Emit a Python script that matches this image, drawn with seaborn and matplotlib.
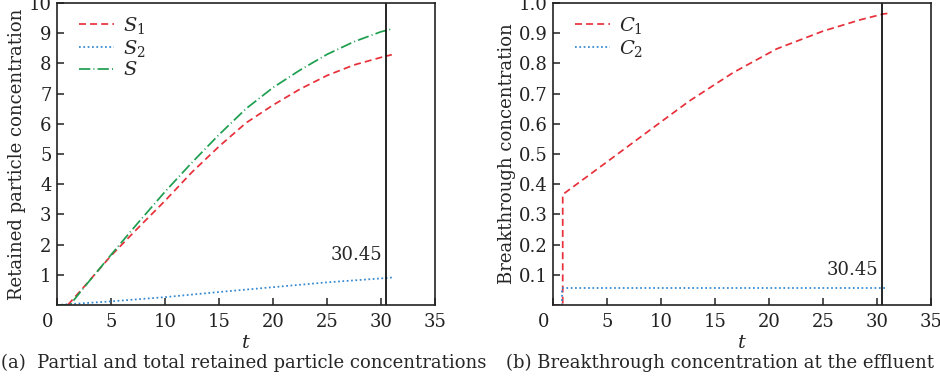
import numpy as np
import pandas as pd
import matplotlib
matplotlib.use("Agg")
import matplotlib.pyplot as plt
import matplotlib.transforms as mtransforms
import seaborn as sns

# ---- retained particle concentrations (panel a) ----
t_s1 = [0, 1.0, 2.5, 5, 7.5, 10, 12.5, 15, 17.5, 20, 22.5, 25, 27.5, 30, 31]
s1 = [0, 0, 0.60, 1.63, 2.55, 3.45, 4.40, 5.25, 6.03, 6.62, 7.15, 7.60, 7.95, 8.20, 8.29]

t_s2 = [0, 5, 10, 15, 20, 25, 30, 31]
s2 = [0, 0.12, 0.26, 0.43, 0.59, 0.75, 0.88, 0.91]

t_s = [0, 1.2, 2.5, 5, 7.5, 10, 12.5, 15, 17.5, 20, 22.5, 25, 27.5, 30, 31]
s_tot = [0, 0, 0.58, 1.66, 2.72, 3.75, 4.72, 5.64, 6.50, 7.20, 7.78, 8.30, 8.72, 9.05, 9.14]

# ---- breakthrough concentrations (panel b) ----
t_c1 = [0, 0.9, 0.9, 5, 9, 12.6, 16.7, 20.7, 25, 28.5, 30.6, 31.1]
c1 = [0, 0, 0.366, 0.474, 0.58, 0.675, 0.77, 0.848, 0.907, 0.945, 0.964, 0.966]

t_c2 = [0, 0.85, 0.85, 30.8]
c2 = [0, 0, 0.056, 0.056]

t_mark = 30.45
x_ticks = [0, 5, 10, 15, 20, 25, 30, 35]
y_ticks_a = [1, 2, 3, 4, 5, 6, 7, 8, 9, 10]
y_ticks_b = [0.1, 0.2, 0.3, 0.4, 0.5, 0.6, 0.7, 0.8, 0.9, 1.0]
y_labels_b = ["0.1", "0.2", "0.3", "0.4", "0.5", "0.6", "0.7", "0.8", "0.9", "1.0"]

sns.set_style("ticks")
plt.rcParams["font.family"] = ["DejaVu Serif"]
plt.rcParams["mathtext.fontset"] = "dejavuserif"
plt.rcParams["axes.edgecolor"] = "#222222"
plt.rcParams["axes.linewidth"] = 1.2

RED = "#e8303a"
BLUE = "#2f86d1"
GREEN = "#1e9e4f"
FS = 13

red_ls = (0, (4, 2.4))
blue_ls = (0, (1, 1.5))
green_ls = (0, (6.5, 1.8, 0.6, 1.8))
LW = 1.25

fig = plt.figure(figsize=(9.4, 3.81), dpi=100)
ax1 = fig.add_axes([0.0606, 0.1995, 0.4022, 0.7925])
ax2 = fig.add_axes([0.5883, 0.1995, 0.4021, 0.7925])

df_s1 = pd.DataFrame({"t": t_s1, "v": s1})
df_s2 = pd.DataFrame({"t": t_s2, "v": s2})
df_s = pd.DataFrame({"t": t_s, "v": s_tot})
sns.lineplot(data=df_s1, x="t", y="v", ax=ax1, color=RED, lw=LW,
             linestyle=red_ls, label="$S_1$", estimator=None, sort=False)
sns.lineplot(data=df_s2, x="t", y="v", ax=ax1, color=BLUE, lw=LW,
             linestyle=blue_ls, label="$S_2$", estimator=None, sort=False)
sns.lineplot(data=df_s, x="t", y="v", ax=ax1, color=GREEN, lw=LW,
             linestyle=green_ls, label="$S$", estimator=None, sort=False)

df_c1 = pd.DataFrame({"t": t_c1, "v": c1})
df_c2 = pd.DataFrame({"t": t_c2, "v": c2})
sns.lineplot(data=df_c1, x="t", y="v", ax=ax2, color=RED, lw=LW,
             linestyle=red_ls, label="$C_1$", estimator=None, sort=False)
sns.lineplot(data=df_c2, x="t", y="v", ax=ax2, color=BLUE, lw=LW,
             linestyle=blue_ls, label="$C_2$", estimator=None, sort=False)

for ax, ymax, yt, ylab, txt_y in [
    (ax1, 10, y_ticks_a, "Retained particle concentration", 1.65),
    (ax2, 1.0, y_ticks_b, "Breakthrough concentration", 0.115),
]:
    ax.axvline(t_mark, color="black", lw=1.2)
    ax.text(t_mark - 0.35, txt_y, f"{t_mark:.2f}", ha="right", va="center",
            fontsize=FS)
    ax.set_xlim(0, 35)
    ax.set_ylim(0, ymax)
    ax.set_xticks(x_ticks)
    ax.set_yticks(yt)
    ax.tick_params(direction="in", length=5, width=1.1, labelsize=FS,
                   colors="#222222", pad=4)
    ax.tick_params(axis="x", pad=6)
    ax.set_xlabel("$t$", fontsize=FS + 1, labelpad=2)
    ax.set_ylabel(ylab, fontsize=FS, labelpad=2)
    for s in ax.spines.values():
        s.set_visible(True)
    # origin label sits a little left of the corner
    lbl0 = ax.get_xticklabels()[0]
    lbl0.set_transform(lbl0.get_transform() +
                       mtransforms.ScaledTranslation(-9 / 100, 0, fig.dpi_scale_trans))
    ax.legend(loc="upper left", bbox_to_anchor=(0.027, 1.0), frameon=False,
              fontsize=FS + 1, handlelength=1.8, handletextpad=0.45,
              labelspacing=0.12, borderaxespad=0.2)

ax2.set_yticklabels(y_labels_b)

fig.text(0.001, 0.047, "(a)  Partial and total retained particle concentrations",
         fontsize=FS, ha="left", va="center")
fig.text(0.538, 0.047, "(b) Breakthrough concentration at the effluent",
         fontsize=FS, ha="left", va="center")

fig.savefig("out.png", dpi=100)
